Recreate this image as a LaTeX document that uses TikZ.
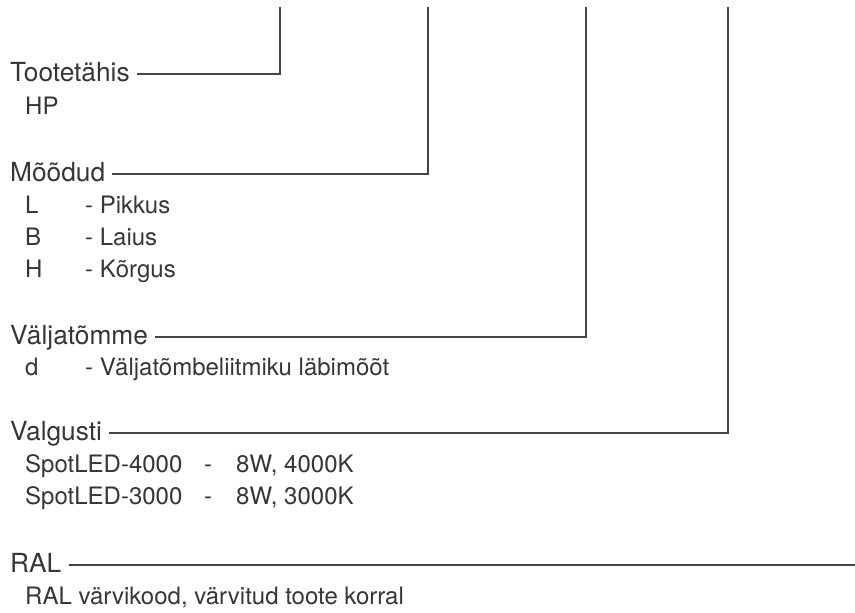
\documentclass[tikz,border=0pt]{standalone}
\usepackage{fontspec}
\setmainfont{TeX Gyre Heros}
\definecolor{txt}{HTML}{363636}
\definecolor{ln}{HTML}{444444}
\begin{document}
\begin{tikzpicture}[x=1pt,y=-1pt,
  head/.style={inner sep=0pt,anchor=base west,text=txt,font=\fontsize{26.3}{30}\selectfont},
  sub/.style={inner sep=0pt,anchor=base west,text=txt,font=\fontsize{24}{28}\selectfont},
  lead/.style={draw=ln,line width=1.7pt}]
\useasboundingbox (0,0) rectangle (855,613);
% top end points
\coordinate (c1) at (280,7);
\coordinate (c2) at (428,7);
\coordinate (c3) at (586,7);
\coordinate (c4) at (728,7);
\coordinate (c5) at (855,565);
% headings
\node[head] (h1) at (10,81) {Tootetähis};
\node[head] (h2) at (10,181) {Mõõdud};
\node[head] (h3) at (10,344) {Väljatõmme};
\node[head] (h4) at (10,440) {Valgusti};
\node[head] (h5) at (10,572) {RAL};
% sub items
\node[sub] (s1) at (25,114) {HP};
\node[sub] (s2a) at (25,213) {L};
\node[sub] (s2b) at (85,213) {- Pikkus};
\node[sub] (s2c) at (25,245) {B};
\node[sub] (s2d) at (85,245) {- Laius};
\node[sub] (s2e) at (25,277) {H};
\node[sub] (s2f) at (85,277) {- Kõrgus};
\node[sub] (s3a) at (25,375) {d};
\node[sub] (s3b) at (85,375) {- Väljatõmbeliitmiku läbimõõt};
\node[sub] (s4a) at (25,472) {SpotLED-4000};
\node[sub] (s4b) at (204,472) {-};
\node[sub] (s4c) at (236,472) {8W, 4000K};
\node[sub] (s4d) at (25,504) {SpotLED-3000};
\node[sub] (s4e) at (204,504) {-};
\node[sub] (s4f) at (236,504) {8W, 3000K};
\node[sub] (s5) at (25,604) {RAL värvikood, värvitud toote korral};
% leaders
\draw[lead] (h1.base east) ++(7,-7) -| (c1);
\draw[lead] (h2.base east) ++(7,-7) -| (c2);
\draw[lead] (h3.base east) ++(7,-7) -| (c3);
\draw[lead] (h4.base east) ++(7,-7) -| (c4);
\draw[lead] (h5.base east) ++(7,-7) -- (c5);
\end{tikzpicture}
\end{document}
